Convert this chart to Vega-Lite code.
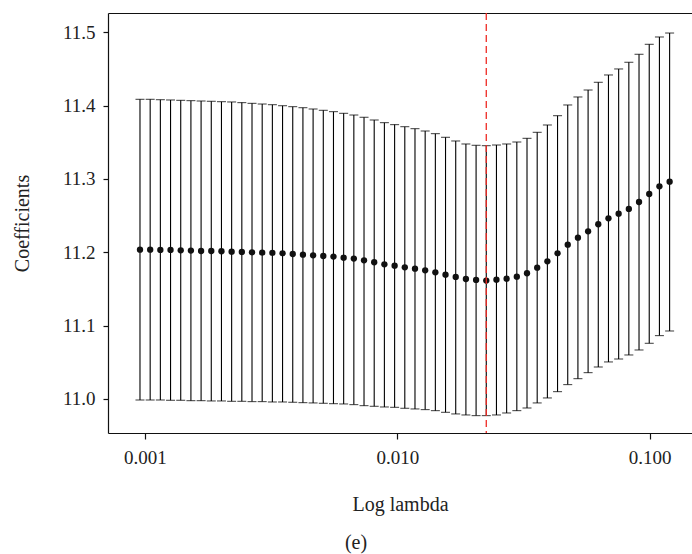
{
  "$schema": "https://vega.github.io/schema/vega-lite/v6.json",
  "autosize": "none",
  "padding": {"left": 108, "top": 13, "right": 0, "bottom": 121},
  "width": 584,
  "height": 420,
  "background": "white",
  "config": {
    "font": "Liberation Serif",
    "view": {"stroke": null},
    "axis": {
      "grid": false,
      "domainColor": "#111",
      "domainWidth": 1.2,
      "tickColor": "#111",
      "tickWidth": 1.2,
      "labelColor": "#222",
      "labelFont": "Liberation Serif",
      "labelFontSize": 19,
      "titleFont": "Liberation Serif",
      "titleFontSize": 20,
      "titleFontWeight": "normal",
      "titleColor": "#222"
    }
  },
  "title": {
    "text": "(e)",
    "orient": "bottom",
    "anchor": "middle",
    "dx": -44,
    "offset": 19,
    "font": "Liberation Serif",
    "fontSize": 20,
    "fontWeight": "normal",
    "color": "#222"
  },
  "data": {
    "values": [
      {"lambda": 0.0009554, "mean": 11.2036, "lo": 10.9986, "hi": 11.4086},
      {"lambda": 0.0010485, "mean": 11.2036, "lo": 10.9986, "hi": 11.4086},
      {"lambda": 0.0011507, "mean": 11.2032, "lo": 10.9986, "hi": 11.4081},
      {"lambda": 0.0012628, "mean": 11.2032, "lo": 10.9982, "hi": 11.4077},
      {"lambda": 0.0013857, "mean": 11.2027, "lo": 10.9982, "hi": 11.4072},
      {"lambda": 0.0015207, "mean": 11.2023, "lo": 10.9977, "hi": 11.4068},
      {"lambda": 0.0016688, "mean": 11.2018, "lo": 10.9977, "hi": 11.4063},
      {"lambda": 0.0018313, "mean": 11.2018, "lo": 10.9973, "hi": 11.4059},
      {"lambda": 0.0020097, "mean": 11.2014, "lo": 10.9973, "hi": 11.4054},
      {"lambda": 0.0022054, "mean": 11.2009, "lo": 10.9968, "hi": 11.4050},
      {"lambda": 0.0024202, "mean": 11.2004, "lo": 10.9968, "hi": 11.4041},
      {"lambda": 0.0026559, "mean": 11.2000, "lo": 10.9964, "hi": 11.4031},
      {"lambda": 0.0029146, "mean": 11.1995, "lo": 10.9964, "hi": 11.4022},
      {"lambda": 0.0031984, "mean": 11.1991, "lo": 10.9959, "hi": 11.4013},
      {"lambda": 0.0035099, "mean": 11.1986, "lo": 10.9959, "hi": 11.3999},
      {"lambda": 0.0038518, "mean": 11.1977, "lo": 10.9955, "hi": 11.3986},
      {"lambda": 0.0042269, "mean": 11.1968, "lo": 10.9950, "hi": 11.3972},
      {"lambda": 0.0046386, "mean": 11.1959, "lo": 10.9946, "hi": 11.3954},
      {"lambda": 0.0050904, "mean": 11.1950, "lo": 10.9941, "hi": 11.3936},
      {"lambda": 0.0055862, "mean": 11.1941, "lo": 10.9936, "hi": 11.3918},
      {"lambda": 0.0061302, "mean": 11.1927, "lo": 10.9932, "hi": 11.3895},
      {"lambda": 0.0067273, "mean": 11.1914, "lo": 10.9923, "hi": 11.3872},
      {"lambda": 0.0073825, "mean": 11.1891, "lo": 10.9909, "hi": 11.3841},
      {"lambda": 0.0081015, "mean": 11.1864, "lo": 10.9900, "hi": 11.3804},
      {"lambda": 0.0088906, "mean": 11.1836, "lo": 10.9891, "hi": 11.3768},
      {"lambda": 0.0097600, "mean": 11.1818, "lo": 10.9886, "hi": 11.3741},
      {"lambda": 0.010711, "mean": 11.1795, "lo": 10.9873, "hi": 11.3713},
      {"lambda": 0.011754, "mean": 11.1777, "lo": 10.9864, "hi": 11.3686},
      {"lambda": 0.012899, "mean": 11.1754, "lo": 10.9855, "hi": 11.3654},
      {"lambda": 0.014156, "mean": 11.1727, "lo": 10.9841, "hi": 11.3618},
      {"lambda": 0.015534, "mean": 11.1695, "lo": 10.9818, "hi": 11.3568},
      {"lambda": 0.017047, "mean": 11.1664, "lo": 10.9796, "hi": 11.3518},
      {"lambda": 0.018708, "mean": 11.1636, "lo": 10.9782, "hi": 11.3477},
      {"lambda": 0.020530, "mean": 11.1623, "lo": 10.9773, "hi": 11.3459},
      {"lambda": 0.022530, "mean": 11.1614, "lo": 10.9773, "hi": 11.3454},
      {"lambda": 0.024724, "mean": 11.1627, "lo": 10.9782, "hi": 11.3463},
      {"lambda": 0.027132, "mean": 11.1641, "lo": 10.9809, "hi": 11.3477},
      {"lambda": 0.029775, "mean": 11.1668, "lo": 10.9841, "hi": 11.3504},
      {"lambda": 0.032675, "mean": 11.1714, "lo": 10.9877, "hi": 11.3554},
      {"lambda": 0.035858, "mean": 11.1791, "lo": 10.9946, "hi": 11.3636},
      {"lambda": 0.039355, "mean": 11.1877, "lo": 11.0014, "hi": 11.3736},
      {"lambda": 0.043179, "mean": 11.1986, "lo": 11.0100, "hi": 11.3863},
      {"lambda": 0.047385, "mean": 11.2104, "lo": 11.0196, "hi": 11.4009},
      {"lambda": 0.052001, "mean": 11.2200, "lo": 11.0277, "hi": 11.4118},
      {"lambda": 0.057066, "mean": 11.2286, "lo": 11.0359, "hi": 11.4213},
      {"lambda": 0.062625, "mean": 11.2382, "lo": 11.0436, "hi": 11.4318},
      {"lambda": 0.068725, "mean": 11.2463, "lo": 11.0505, "hi": 11.4418},
      {"lambda": 0.075419, "mean": 11.2527, "lo": 11.0545, "hi": 11.4500},
      {"lambda": 0.082765, "mean": 11.2591, "lo": 11.0600, "hi": 11.4591},
      {"lambda": 0.090827, "mean": 11.2686, "lo": 11.0668, "hi": 11.4700},
      {"lambda": 0.099701, "mean": 11.2795, "lo": 11.0759, "hi": 11.4836},
      {"lambda": 0.10942, "mean": 11.2900, "lo": 11.0864, "hi": 11.4936},
      {"lambda": 0.12008, "mean": 11.2963, "lo": 11.0927, "hi": 11.4990}
    ]
  },
  "layer": [
    {
      "mark": {"type": "rule", "color": "#000", "strokeWidth": 1.1},
      "encoding": {
        "x": {
          "field": "lambda", "type": "quantitative",
          "scale": {"type": "log", "domain": [0.00071352, 0.1473], "nice": false, "zero": false},
          "axis": {
            "orient": "bottom", "title": "Log lambda",
            "values": [0.001, 0.01, 0.1], "format": ".3f",
            "tickSize": 6, "labelPadding": 9, "titlePadding": 27
          }
        },
        "y": {
          "field": "lo", "type": "quantitative",
          "scale": {"domain": [10.9536, 11.5263], "nice": false, "zero": false},
          "axis": {
            "title": "Coefficients",
            "values": [11.0, 11.1, 11.2, 11.3, 11.4, 11.5], "format": ".1f",
            "tickSize": 5, "labelPadding": 8, "titlePadding": 30
          }
        },
        "y2": {"field": "hi"}
      }
    },
    {
      "mark": {"type": "tick", "orient": "horizontal", "size": 9, "thickness": 1.1, "color": "#000"},
      "encoding": {
        "x": {"field": "lambda", "type": "quantitative", "axis": null},
        "y": {"field": "hi", "type": "quantitative"}
      }
    },
    {
      "mark": {"type": "tick", "orient": "horizontal", "size": 9, "thickness": 1.1, "color": "#000"},
      "encoding": {
        "x": {"field": "lambda", "type": "quantitative", "axis": null},
        "y": {"field": "lo", "type": "quantitative"}
      }
    },
    {
      "mark": {"type": "circle", "size": 40, "color": "#111", "opacity": 1},
      "encoding": {
        "x": {"field": "lambda", "type": "quantitative", "axis": null},
        "y": {"field": "mean", "type": "quantitative"}
      }
    },
    {
      "data": {"values": [{"best": 0.02253}]},
      "mark": {"type": "rule", "color": "#ee2a24", "strokeWidth": 1.3, "strokeDash": [7, 4]},
      "encoding": {
        "x": {
          "field": "best", "type": "quantitative",
          "axis": {"orient": "top", "title": null, "labels": false, "ticks": false, "domain": true}
        }
      }
    }
  ],
  "resolve": {"axis": {"x": "independent"}}
}
